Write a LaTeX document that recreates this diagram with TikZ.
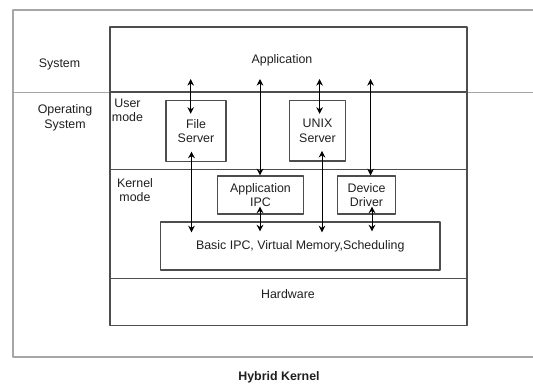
\documentclass[tikz,border=0pt]{standalone}
\usepackage{fontspec}
\setmainfont{Liberation Sans}
\usetikzlibrary{arrows.meta}
\definecolor{framegray}{HTML}{A6A6A6}
\definecolor{linegray}{HTML}{4D4D4D}
\definecolor{txtgray}{HTML}{1F1F1F}
\begin{document}
\begin{tikzpicture}[x=0.75pt,y=-0.75pt,line join=round,
    every node/.style={font=\fontsize{9.3}{11}\selectfont,text=txtgray,align=center,inner sep=0pt},
    frame/.style={draw=framegray,line width=1.4pt},
    layer/.style={draw=linegray,line width=0.8pt},
    box/.style={draw=linegray,line width=0.8pt},
    biarr/.style={draw=black,line width=0.75pt,{Stealth[length=5pt,width=5pt]}-{Stealth[length=5pt,width=5pt]}}]
  \useasboundingbox (0,0) rectangle (533,385);
  \draw[frame] (533,10) -- (13,10) -- (13,357) -- (533,357);
  \draw[frame] (13,92.5) -- (533,92.5);
  \draw[layer] (110,27) rectangle (467,325.5);
  \draw[draw=linegray,line width=1.5pt] (110,92.5) -- (467,92.5);
  \draw[layer] (110,169.3) -- (467,169.3);
  \draw[layer] (110,278.6) -- (467,278.6);
  \node (sys) at (59.5,64) {System};
  \node (os) at (65,118) {Operating\\System};
  \node (user) at (127.5,110.4) {User\\mode};
  \node (kern) at (135,190) {Kernel\\mode};
  \node (app) at (282,60) {Application};
  \node (hw) at (288,294) {Hardware};
  \node[box,minimum width=45pt,minimum height=46pt] (fs) at (196,131) {File\\Server};
  \node[box,minimum width=42.4pt,minimum height=45.5pt] (unix) at (317.5,130.7) {UNIX\\Server};
  \node[box,minimum width=64.5pt,minimum height=28.5pt] (aipc) at (260.5,195) {Application\\IPC};
  \node[box,minimum width=43.9pt,minimum height=28.5pt] (dd) at (366.5,195) {Device\\Driver};
  \node[box,minimum width=209.6pt,minimum height=36pt] (basic) at (300.25,246) {Basic IPC, Virtual Memory,Scheduling};
  \node[font=\fontsize{9.3}{11}\selectfont\bfseries] (title) at (279,377) {Hybrid Kernel};
  \coordinate (a1) at (190.7,79);
  \coordinate (a2) at (260,79);
  \coordinate (a3) at (319.6,79);
  \coordinate (a4) at (370.6,79);
  \coordinate (b1) at (191.5,0);
  \coordinate (b3) at (322,0);
  \coordinate (b4) at (372,0);
  \draw[biarr,shorten >=-10.5pt] (a1) -- (a1 |- fs.north);
  \draw[biarr] (a2) -- (a2 |- aipc.north);
  \draw[biarr,shorten >=-10.5pt] (a3) -- (a3 |- unix.north);
  \draw[biarr] (a4) -- (a4 |- dd.north);
  \draw[biarr,shorten <=-8pt,shorten >=-8.2pt] (b1 |- fs.south) -- (b1 |- basic.north);
  \draw[biarr,shorten <=-6pt,shorten >=-7.5pt] (a2 |- aipc.south) -- (a2 |- basic.north);
  \draw[biarr,shorten <=-8pt,shorten >=-8.2pt] (b3 |- unix.south) -- (b3 |- basic.north);
  \draw[biarr,shorten <=-6pt,shorten >=-7.5pt] (b4 |- dd.south) -- (b4 |- basic.north);
\end{tikzpicture}
\end{document}
